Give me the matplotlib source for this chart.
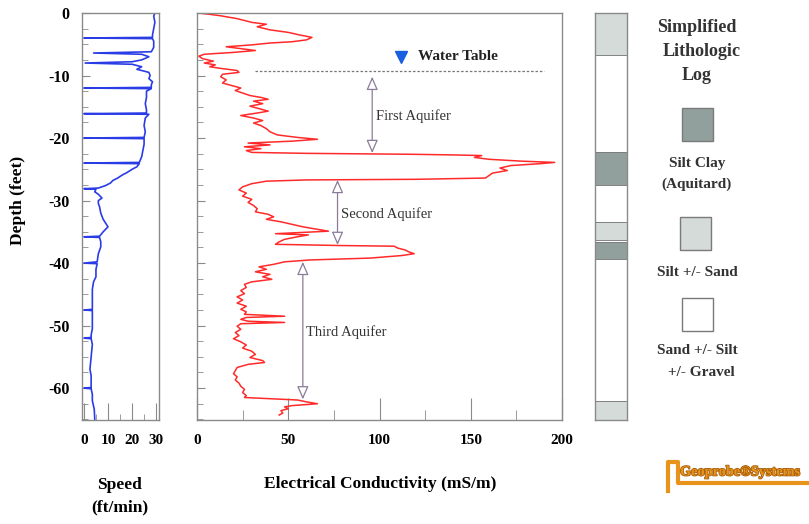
import matplotlib
matplotlib.use("Agg")
import matplotlib.pyplot as plt
from matplotlib.patches import Rectangle
from matplotlib.lines import Line2D
import matplotlib.patheffects as pe
from matplotlib.ticker import MultipleLocator

plt.rcParams['font.family'] = ['Liberation Serif', 'DejaVu Serif']

# probe log data (depth in feet, negative downwards)
speed_depth = [0, -0.5, -1.5, -2.5, -3.5, -3.9, -4.0, -4.1, -4.5, -5.5, -6.2, -6.4, -6.6, -7.0,
               -7.5, -7.8, -8.0, -8.2, -8.6, -9.0, -9.5, -10.0, -10.5, -11.0, -11.5, -11.9, -12.0,
               -12.1, -12.5, -13.5, -14.5, -15.5, -16.0, -16.1, -16.2, -16.8, -18.0, -19.0, -19.9,
               -20.0, -20.1, -21.0, -22.0, -23.0, -23.9, -24.0, -24.1, -24.6, -25.0, -25.5, -25.9,
               -26.4, -26.8, -27.2, -27.6, -28.0, -28.1, -28.2, -28.6, -29.0, -29.6, -30.0, -30.5,
               -31.0, -32.0, -33.0, -34.2, -35.0, -35.7, -35.8, -35.9, -36.6, -37.4, -38.5, -39.8,
               -40.0, -40.1, -41.0, -42.2, -43.0, -44.2, -45.0, -46.0, -47.4, -47.5, -47.6, -48.5,
               -49.5, -50.5, -51.5, -51.9, -52.0, -52.1, -53.0, -55.0, -57.0, -58.0, -59.9, -60.0,
               -60.1, -61.0, -62.0, -63.4, -65.0]
speed = [29.5, 29, 29.5, 29, 28.5, 28.5, 0, 28.5, 29, 29, 28, 4, 24, 27,
         24, 20, 0.5, 20, 24, 22, 27, 27.5, 27, 28.5, 28, 28, 0,
         28, 26, 26, 25.5, 26, 26, 0, 27, 25.5, 25, 25.5, 25,
         0, 25, 25, 24.5, 24, 23, 0, 23, 22, 20, 18, 16,
         14, 12, 11, 9, 6, 0, 5, 4.5, 6, 7.5, 6, 6,
         6.5, 7, 8, 10, 8, 6.5, 0, 6.5, 7, 7, 6, 5.5,
         0, 5.5, 5, 5, 4, 3.5, 3.5, 3.5, 3.5, 0, 3.5, 3.5,
         3.5, 3.5, 3, 3, 0, 3, 3.5, 3, 2.5, 3, 3, 0,
         3, 3.5, 3.5, 4.3, 4.5]

ec_depth = [0.0, -0.4, -0.9, -1.5, -1.8, -2.2, -2.7, -3.1, -3.5, -3.9, -4.3, -4.6, -4.8, -5.1,
            -5.4, -5.7, -6.0, -6.3, -6.6, -6.9, -7.3, -7.7, -8.0, -8.3, -8.6, -8.9, -9.2, -9.5,
            -9.8, -10.2, -10.7, -11.2, -11.6, -12.0, -12.4, -12.8, -13.2, -13.5, -13.8, -14.1,
            -14.5, -14.9, -15.3, -15.7, -16.0, -16.4, -16.8, -17.2, -17.6, -18.0, -18.5, -19.0,
            -19.5, -19.9, -20.2, -20.5, -20.8, -21.1, -21.4, -21.7, -22.0, -22.3, -22.45, -22.6,
            -22.7, -22.8, -23.1, -23.4, -23.7, -23.9, -24.1, -24.4, -24.8, -25.2, -25.6, -26.0,
            -26.4, -26.6, -26.7, -26.9, -27.3, -27.8, -28.3, -28.8, -29.3, -29.8, -30.3, -30.8,
            -31.3, -31.8, -32.2, -32.6, -33.0, -33.4, -33.8, -34.2, -34.6, -34.9, -35.1, -35.3,
            -35.5, -35.8, -36.2, -36.6, -37.0, -37.2, -37.3, -37.6, -37.9, -38.2, -38.5, -38.8,
            -39.2, -39.5, -39.8, -40.2, -40.6, -41.0, -41.4, -41.8, -42.2, -42.6, -43.0, -43.4,
            -43.9, -44.4, -44.9, -45.4, -45.9, -46.4, -46.9, -47.4, -47.8, -48.2, -48.5, -48.7,
            -49.0, -49.3, -49.5, -49.7, -50.1, -50.6, -51.1, -51.6, -52.1, -52.6, -53.1, -53.6,
            -54.1, -54.6, -55.1, -55.6, -55.9, -56.2, -56.7, -57.2, -57.7, -58.2, -58.7, -59.2,
            -59.7, -60.2, -60.7, -61.2, -61.5, -61.7, -61.9, -62.2, -62.5, -62.8, -63.0, -63.3,
            -63.6, -64.0, -64.3]
ec = [1, 12, 22, 30, 38, 33, 40, 50, 56, 63, 60, 52, 40, 30,
      16, 24, 32, 20, 4, 1, 3, 9, 4, 10, 7, 14, 22, 23,
      14, 13, 16, 14, 19, 24, 21, 25, 29, 35, 39, 31,
      36, 29, 34, 39, 33, 24, 31, 36, 31, 35, 38, 40,
      44, 55, 66, 52, 28, 40, 26, 35, 27, 30, 60, 118,
      140, 156, 152, 160, 178, 196, 188, 172, 166, 170, 162, 160,
      158, 120, 60, 38, 30, 25, 23, 27, 25, 30, 28, 31,
      33, 32, 39, 42, 38, 46, 52, 58, 66, 72, 58, 43,
      61, 55, 48, 45, 43, 80, 108, 110, 114, 116, 119, 112,
      95, 62, 48, 42, 34, 38, 32, 40, 36, 41, 30, 26,
      27, 24, 26, 22, 25, 22, 27, 24, 27, 26, 48, 27,
      24, 28, 48, 24, 22, 24, 21, 23, 20, 24, 27, 25,
      30, 32, 29, 36, 37, 28, 22, 21, 20, 22, 21, 23,
      24, 26, 25, 27, 26, 40, 55, 60, 66, 52, 48, 50,
      46, 47, 45]

# simplified lithologic log
lith_top = [0, -6.7, -22.3, -27.5, -33.5, -36.3, -36.7, -39.4, -62.0]
lith_bot = [-6.7, -22.3, -27.5, -33.5, -36.3, -36.7, -39.4, -62.0, -65.1]
lith_type = ['silt', 'sand', 'clay', 'sand', 'silt', 'sand', 'clay', 'sand', 'silt']
lith_colors = {'clay': '#919f9d', 'silt': '#d4dbd9', 'sand': '#ffffff'}

water_table = -9.2
aquifer_names = ['First Aquifer', 'Second Aquifer', 'Third Aquifer']
aquifer_top = [-10.2, -26.7, -39.8]
aquifer_bot = [-22.4, -37.1, -61.8]
aquifer_x = [96, 77, 58]

W, H = 809, 524
fig = plt.figure(figsize=(W / 100, H / 100), dpi=100)


def fx(x):
    return x / W


def fy(y):
    return 1 - y / H


bottom = fy(420)
height = fy(13) - fy(420)
ax_sp = fig.add_axes([fx(82), bottom, fx(77), height])
ax_ec = fig.add_axes([fx(197), bottom, fx(365), height])
ax_li = fig.add_axes([fx(595), bottom, fx(32), height])

grey = '#8a8a8a'
for ax in (ax_sp, ax_ec, ax_li):
    ax.set_ylim(-65.1, 0)
    for s in ax.spines.values():
        s.set_color(grey)
        s.set_linewidth(1.0)

# speed panel
ax_sp.plot(speed, speed_depth, color='#2a3ce6', lw=1.2)
ax_sp.set_xlim(-0.8, 31.2)
ax_sp.xaxis.set_major_locator(MultipleLocator(10))
ax_sp.xaxis.set_minor_locator(MultipleLocator(5))
ax_sp.yaxis.set_major_locator(MultipleLocator(10))
ax_sp.yaxis.set_minor_locator(MultipleLocator(2.5))
ax_sp.tick_params(which='both', direction='in', color=grey, top=False, right=False)
ax_sp.tick_params(axis='x', which='major', length=12, pad=10, labelsize=11)
ax_sp.tick_params(axis='x', which='minor', length=4)
ax_sp.tick_params(axis='y', which='major', length=6, pad=9, labelsize=11.5)
ax_sp.tick_params(axis='y', which='minor', length=4)
for lab in ax_sp.get_xticklabels() + ax_sp.get_yticklabels():
    lab.set_fontweight('bold')
ax_sp.set_yticks([0, -10, -20, -30, -40, -50, -60])
ax_sp.set_yticklabels(['0', '-10', '-20', '-30', '-40', '-50', '-60'], fontweight='bold')

# conductivity panel
ax_ec.plot(ec, ec_depth, color='#ff2a2a', lw=1.1)
ax_ec.set_xlim(0, 200)
ax_ec.xaxis.set_major_locator(MultipleLocator(50))
ax_ec.xaxis.set_minor_locator(MultipleLocator(25))
ax_ec.yaxis.set_major_locator(MultipleLocator(10))
ax_ec.yaxis.set_minor_locator(MultipleLocator(2.5))
ax_ec.tick_params(which='both', direction='in', color=grey, top=False, right=False)
ax_ec.tick_params(axis='x', which='major', length=16, pad=10, labelsize=11)
ax_ec.tick_params(axis='x', which='minor', length=7)
ax_ec.tick_params(axis='y', which='major', length=6, labelleft=False)
ax_ec.tick_params(axis='y', which='minor', length=4)
for lab in ax_ec.get_xticklabels():
    lab.set_fontweight('bold')

ax_ec.plot([32, 190], [water_table, water_table], color='#777777', lw=0.9,
           ls=(0, (2, 1.5)))
ax_ec.plot(112, -7.0, marker='v', color='#1a5fe0', markersize=9, ls='none')
ax_ec.text(121, -7.0, 'Water Table', fontsize=11, fontweight='bold', color='#222222',
           ha='left', va='center')

for name, top, bot, x in zip(aquifer_names, aquifer_top, aquifer_bot, aquifer_x):
    ax_ec.annotate('', xy=(x, bot), xytext=(x, top),
                   arrowprops=dict(arrowstyle='<|-|>,head_length=0.8,head_width=0.35',
                                   facecolor='white', edgecolor='#8c7b98', lw=0.9,
                                   shrinkA=0, shrinkB=0))
    ax_ec.text(x + 2, (top + bot) / 2 - 0.2, name, fontsize=10.5, color='#333333',
               ha='left', va='center')

# lithology column
for t, b, k in zip(lith_top, lith_bot, lith_type):
    ax_li.bar(0.5, t - b, bottom=b, width=1, color=lith_colors[k],
              edgecolor='#7a7a7a', lw=0.6)
ax_li.set_xlim(0, 1)
ax_li.set_xticks([])
ax_li.set_yticks([])

# axis titles
fig.text(fx(18), fy(200), 'Depth (feet)', rotation=90, fontsize=12.5, fontweight='bold',
         ha='center', va='center')
fig.text(fx(120), fy(485), 'Speed', fontsize=12.5, fontweight='bold', ha='center', va='center')
fig.text(fx(120), fy(507), '(ft/min)', fontsize=12.5, fontweight='bold', ha='center', va='center')
fig.text(fx(380), fy(484), 'Electrical Conductivity (mS/m)', fontsize=12.5, fontweight='bold',
         ha='center', va='center')

# legend
for txt, y, x in [('Simplified', 28, 697), ('Lithologic', 52, 702), ('Log', 75, 697)]:
    fig.text(fx(x), fy(y), txt, fontsize=13, fontweight='bold', ha='center', va='center',
             color='#333333')

legend_boxes = [(682, 108, 'clay', ['Silt Clay', '(Aquitard)'], [163, 184], [697, 697]),
                (680, 217, 'silt', ['Silt +/- Sand'], [272], [697]),
                (682, 298, 'sand', ['Sand +/- Silt', '+/- Gravel'], [350, 373], [697, 701])]
for x0, y0, k, labels, ys, xs in legend_boxes:
    fig.add_artist(Rectangle((fx(x0), fy(y0 + 33)), fx(31), fy(y0) - fy(y0 + 33),
                             transform=fig.transFigure, facecolor=lith_colors[k],
                             edgecolor='#7a7a7a', lw=1.0))
    for lab, y, x in zip(labels, ys, xs):
        fig.text(fx(x), fy(y), lab, fontsize=11, fontweight='bold', ha='center',
                 va='center', color='#333333')

# company mark
orange = '#e8931c'
fig.add_artist(Line2D([fx(668), fx(668), fx(678), fx(678), fx(809)],
                      [fy(491), fy(462), fy(462), fy(483), fy(483)],
                      transform=fig.transFigure, color=orange, lw=3))
fig.text(fx(680), fy(472), 'Geoprobe\u00aeSystems', fontsize=10.3, fontweight='bold',
         color=orange, ha='left', va='center',
         path_effects=[pe.withStroke(linewidth=1.2, foreground='#a8600c')])

fig.savefig('out.png', dpi=100)
